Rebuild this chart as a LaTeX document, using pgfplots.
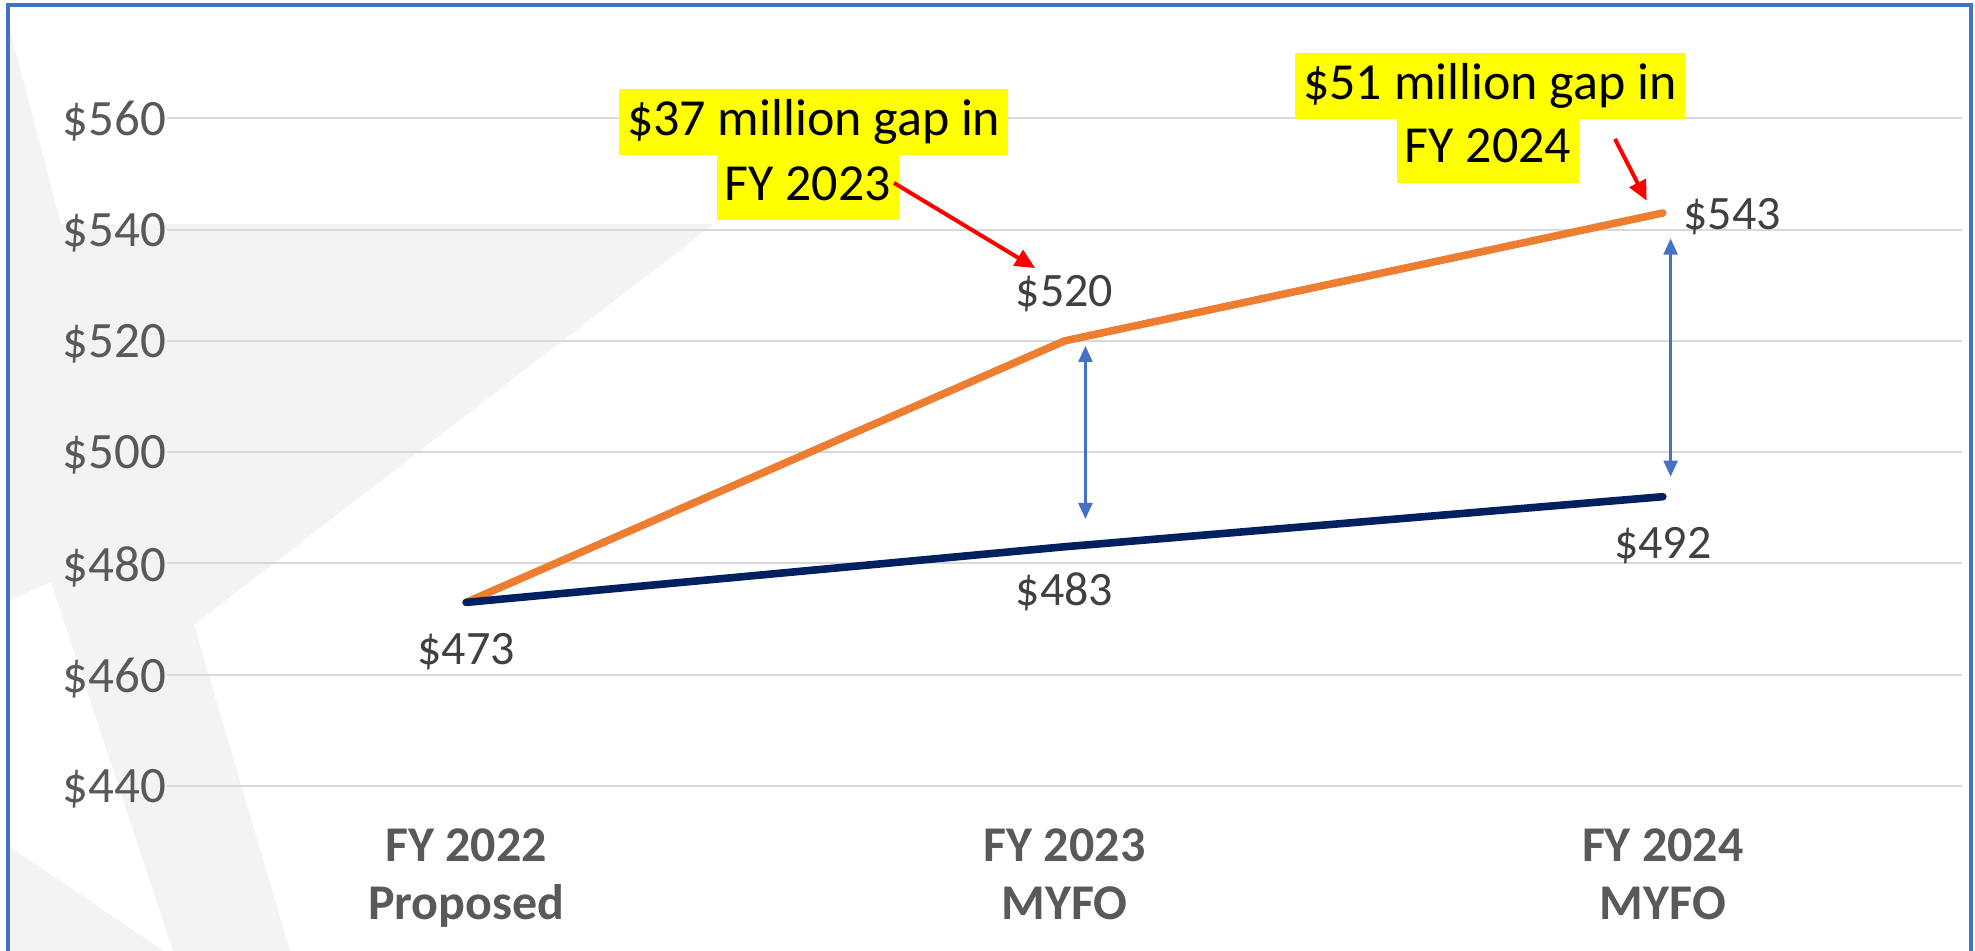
\documentclass[border=0pt]{standalone}
\usepackage{pgfplots}
\pgfplotsset{compat=1.18}
\usepackage{fontspec}
\setmainfont{Carlito}
\usetikzlibrary{arrows.meta}
\definecolor{orangeL}{HTML}{ED7D31}
\definecolor{navyL}{HTML}{002060}
\definecolor{gridc}{HTML}{D9D9D9}
\definecolor{tickc}{HTML}{595959}
\definecolor{labc}{HTML}{404040}
\definecolor{framec}{HTML}{4472C4}
\definecolor{wm}{HTML}{F3F3F3}
\definecolor{hl}{HTML}{FFFF00}
\begin{document}
\begin{tikzpicture}
\useasboundingbox (-83.5pt,-82.5pt) rectangle (904pt,393pt);
% faint watermark and frame, in pixel units of the reference
\begin{scope}[x=0.5pt,y=-0.5pt,shift={(-167,-786)}]
  \fill[wm] (10,224) -- (714,224) -- (194,625) -- (290,951) -- (173,951) -- (51,582) -- (10,600) -- cycle;
  \fill[wm] (10,30) -- (61,224) -- (10,224) -- cycle;
  \fill[wm] (10,847) -- (164,951) -- (10,951) -- cycle;
  \draw[framec, line width=2pt] (8,951) -- (8,5) -- (1971,5) -- (1971,951);
\end{scope}
\begin{axis}[at={(0,0)}, anchor=south west, scale only axis,
  width=897.5pt, height=333.8pt,
  xmin=-0.5, xmax=2.5, ymin=440, ymax=560,
  axis line style={draw=none}, major tick length=0pt,
  ymajorgrids, grid style={gridc, line width=1pt},
  xtick={0,1,2},
  xticklabels={{FY 2022\\Proposed},{FY 2023\\MYFO},{FY 2024\\MYFO}},
  xticklabel style={align=center, font=\bfseries\fontsize{25}{29}\selectfont, text=tickc, yshift=-18pt},
  ytick={440,460,480,500,520,540,560},
  yticklabels={\$440,\$460,\$480,\$500,\$520,\$540,\$560},
  yticklabel style={font=\fontsize{25.5}{30}\selectfont, text=tickc, xshift=3pt, yshift=-1.5pt},
  clip=false,
]
\addplot[orangeL, line width=3.8pt, line cap=round, line join=round] coordinates {(0,473) (1,520) (2,543)};
\addplot[navyL, line width=3.8pt, line cap=round, line join=round] coordinates {(0,473) (1,483) (2,492)};

% data labels
\node[font=\fontsize{24}{28}\selectfont, text=labc] at (axis cs:0,464.1) {\$473};
\node[font=\fontsize{24}{28}\selectfont, text=labc] at (axis cs:1,474.9) {\$483};
\node[font=\fontsize{24}{28}\selectfont, text=labc] at (axis cs:2,483.2) {\$492};
\node[font=\fontsize{24}{28}\selectfont, text=labc] at (axis cs:1,528.5) {\$520};
\node[font=\fontsize{24}{28}\selectfont, text=labc] at (axis cs:2.116,542.3) {\$543};

% gap arrows
\draw[framec, line width=1.2pt, {Triangle[length=8pt,width=7pt]}-{Triangle[length=8pt,width=7pt]}] (axis cs:1.035,519.1) -- (axis cs:1.035,488);
\draw[framec, line width=1.2pt, {Triangle[length=8pt,width=7pt]}-{Triangle[length=8pt,width=7pt]}] (axis cs:2.013,538.4) -- (axis cs:2.013,495.6);

% annotations
\tikzset{hlbox/.style={fill=hl, text=black, font=\fontsize{26}{31}\selectfont, inner ysep=0pt, inner xsep=4pt, minimum height=33pt, text height=19pt, text depth=6pt}}
\node[hlbox] at (axis cs:0.581,559.35) {\$37 million gap in};
\node[hlbox] at (axis cs:0.571,547.6) {FY 2023};
\node[hlbox] at (axis cs:1.711,565.8) {\$51 million gap in};
\node[hlbox] at (axis cs:1.708,554.4) {FY 2024};
\draw[red, line width=2pt, -{Triangle[length=10pt,width=9pt]}] (axis cs:0.715,548.4) -- (axis cs:0.951,533.1);
\draw[red, line width=2pt, -{Triangle[length=10pt,width=9pt]}] (axis cs:1.92,556.3) -- (axis cs:1.973,545.2);
\end{axis}
\end{tikzpicture}
\end{document}
